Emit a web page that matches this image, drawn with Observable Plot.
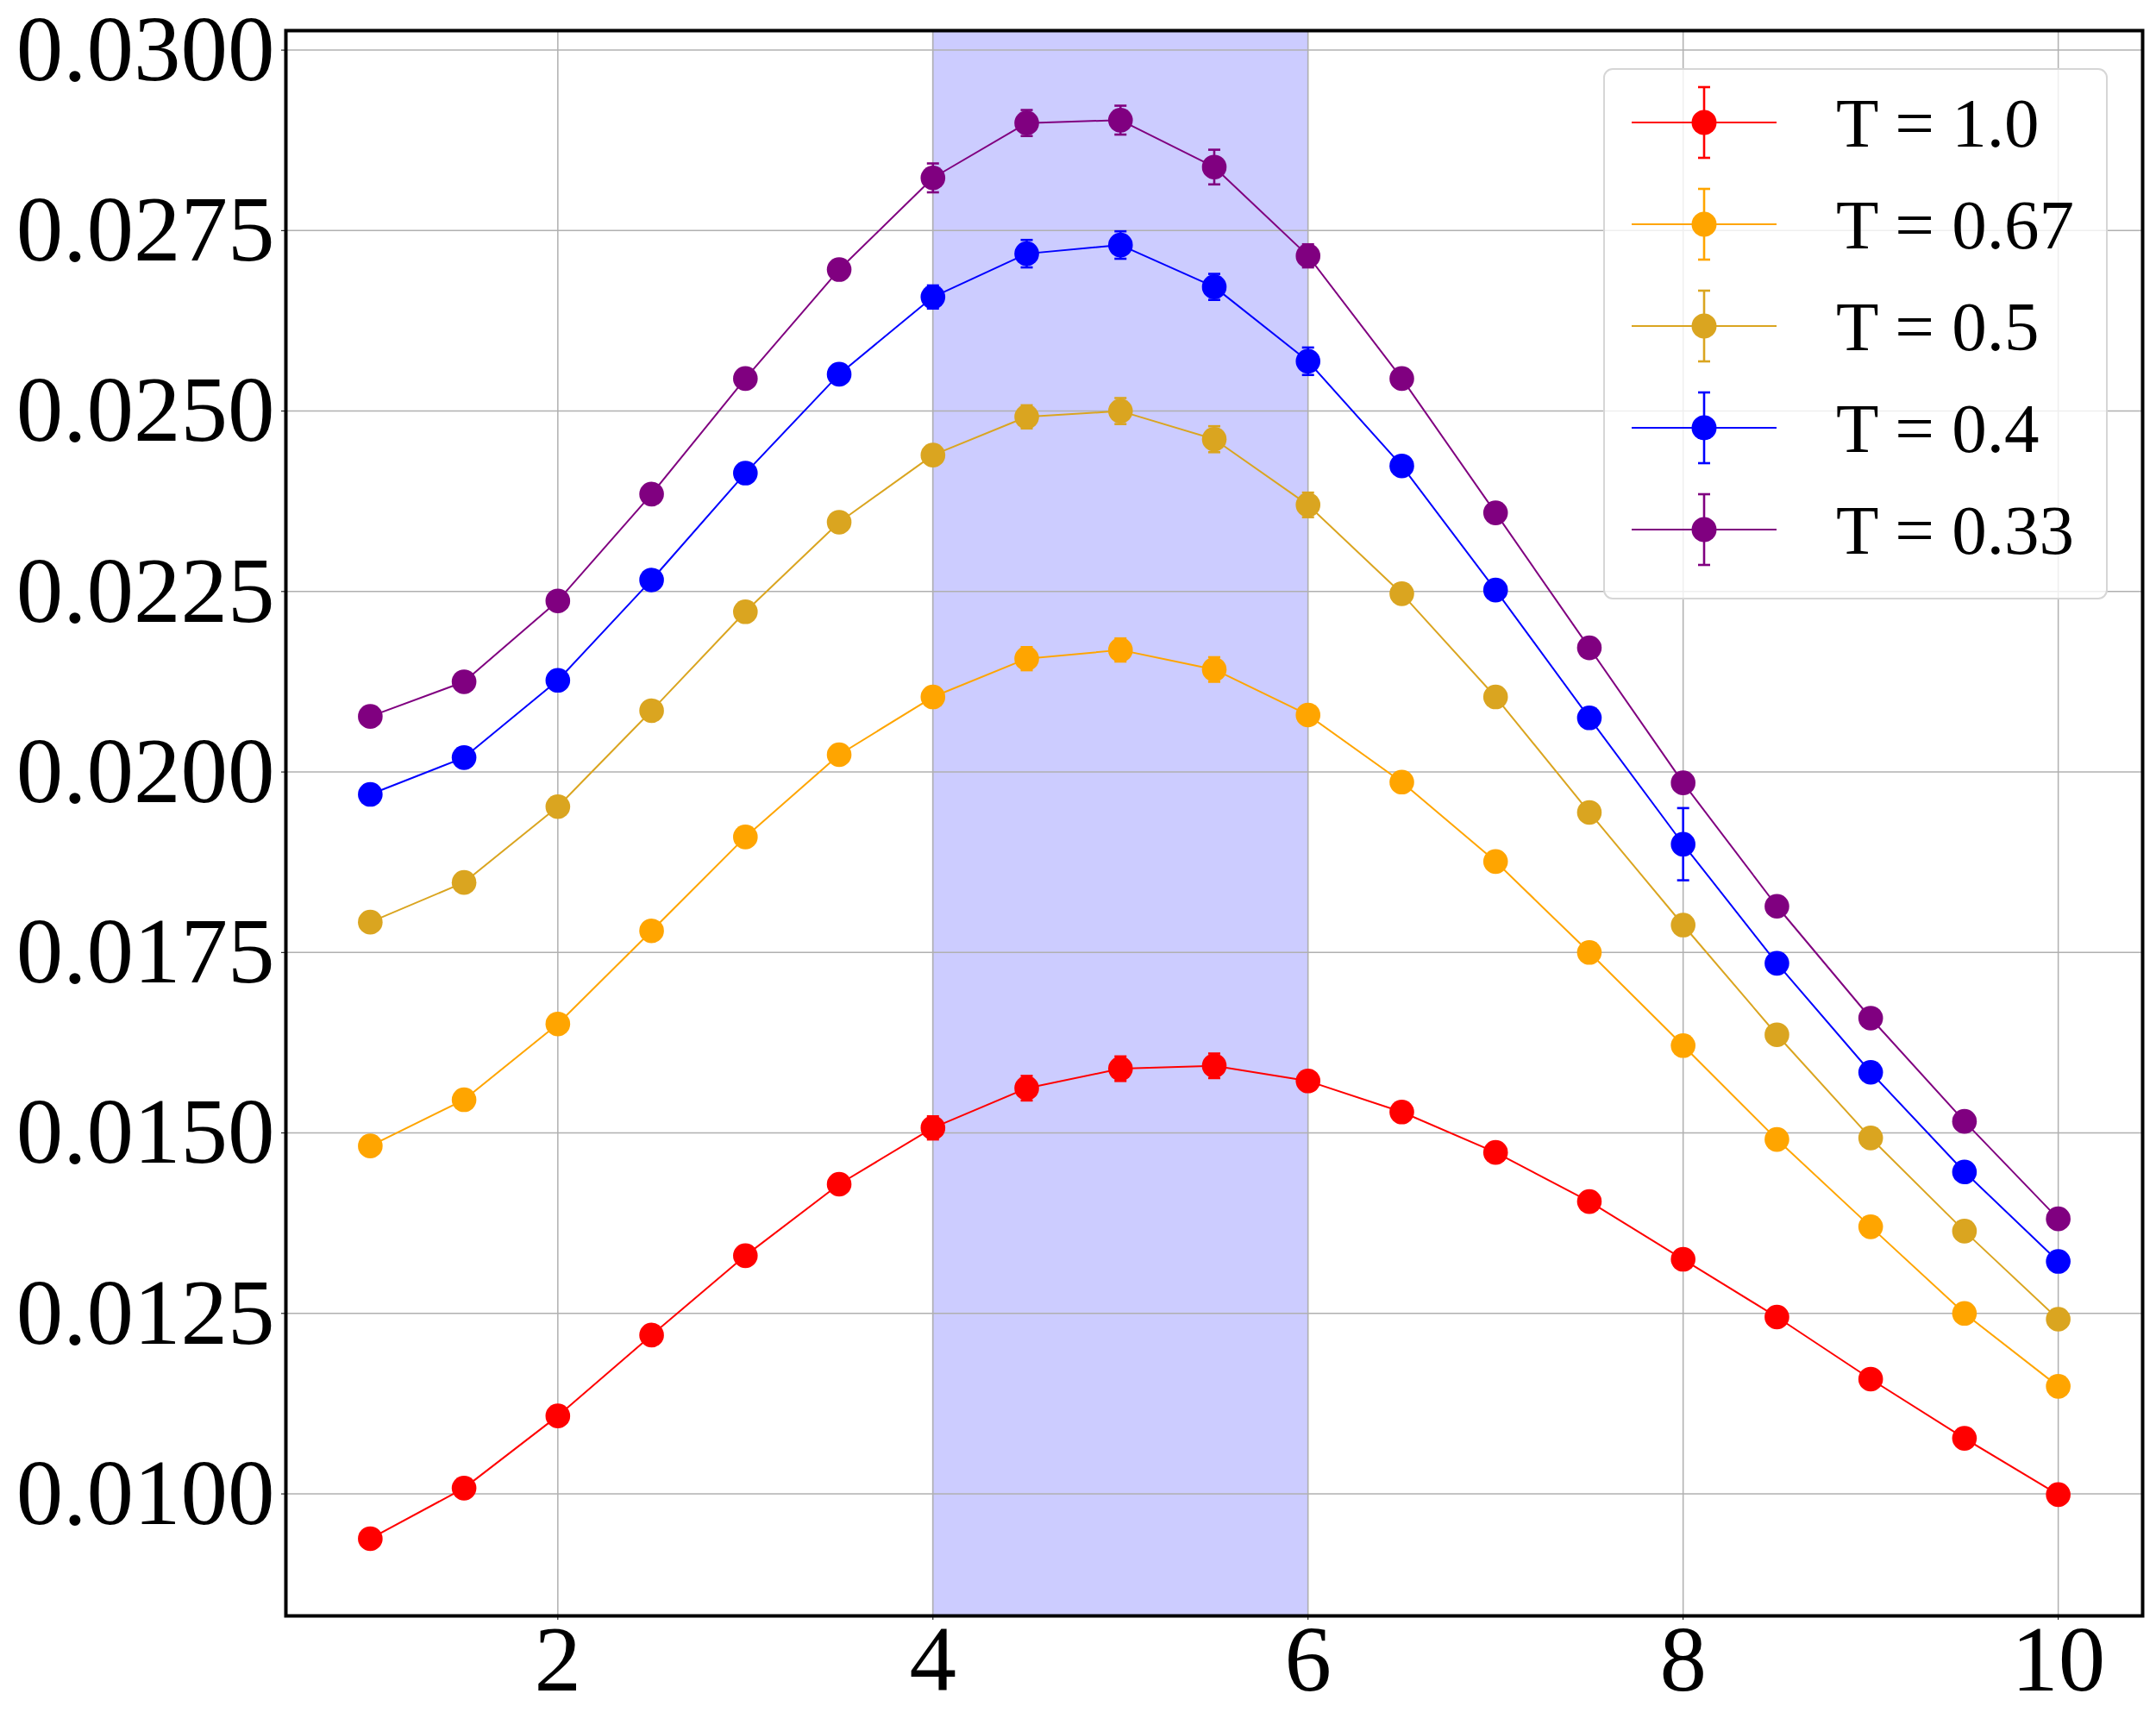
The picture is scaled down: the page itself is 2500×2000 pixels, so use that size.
<!DOCTYPE html>
<html>
<head>
<meta charset="utf-8">
<script src="https://cdn.jsdelivr.net/npm/d3@7"></script>
<script src="https://cdn.jsdelivr.net/npm/@observablehq/plot@0.6"></script>
<style>
  html, body { margin: 0; padding: 0; background: white; }
  #chart { position: relative; width: 2500px; height: 2000px; }
</style>
</head>
<body>
<div id="chart"></div>
<script>
const xs = [1, 1.5, 2, 2.5, 3, 3.5, 4, 4.5, 5, 5.5, 6, 6.5, 7, 7.5, 8, 8.5, 9, 9.5, 10];
const labels = ["T = 1.0", "T = 0.67", "T = 0.5", "T = 0.4", "T = 0.33"];
const colors = ["red", "orange", "goldenrod", "blue", "purple"];

const yT100 = [0.00938, 0.01008, 0.01108, 0.01220, 0.01330, 0.01429, 0.01507, 0.01562, 0.01589, 0.01593, 0.01572, 0.01529, 0.01473, 0.01405, 0.01325, 0.01245, 0.01159, 0.01077, 0.00999];
const yT067 = [0.01482, 0.01546, 0.01651, 0.01780, 0.01910, 0.02024, 0.02104, 0.02157, 0.02169, 0.02142, 0.02079, 0.01986, 0.01876, 0.01750, 0.01621, 0.01491, 0.01370, 0.01250, 0.01149];
const yT050 = [0.01792, 0.01847, 0.01952, 0.02085, 0.02222, 0.02346, 0.02439, 0.02492, 0.02500, 0.02461, 0.02370, 0.02247, 0.02104, 0.01944, 0.01788, 0.01636, 0.01493, 0.01364, 0.01242];
const yT040 = [0.01969, 0.02020, 0.02127, 0.02266, 0.02414, 0.02551, 0.02658, 0.02718, 0.02730, 0.02672, 0.02569, 0.02424, 0.02252, 0.02075, 0.01900, 0.01735, 0.01584, 0.01446, 0.01322];
const yT033 = [0.02077, 0.02125, 0.02237, 0.02385, 0.02545, 0.02696, 0.02823, 0.02899, 0.02903, 0.02838, 0.02715, 0.02545, 0.02359, 0.02172, 0.01985, 0.01814, 0.01659, 0.01516, 0.01381];

const eT100 = [0.0001, 0.0001, 0.0001, 0.0001, 0.0001, 0.0001, 0.00016, 0.00017, 0.00017, 0.00017, 0.0001, 0.0001, 0.0001, 0.0001, 0.0001, 0.0001, 0.0001, 0.0001, 0.0001];
const eT067 = [0.0001, 0.0001, 0.0001, 0.0001, 0.0001, 0.0001, 0.0001, 0.00016, 0.00016, 0.00017, 0.0001, 0.0001, 0.0001, 0.0001, 0.0001, 0.0001, 0.0001, 0.0001, 0.0001];
const eT050 = [0.0001, 0.0001, 0.0001, 0.0001, 0.0001, 0.0001, 0.0001, 0.00016, 0.00018, 0.00018, 0.00017, 0.0001, 0.0001, 0.0001, 0.0001, 0.0001, 0.0001, 0.0001, 0.0001];
const eT040 = [0.0001, 0.0001, 0.0001, 0.0001, 0.0001, 0.0001, 0.00016, 0.00019, 0.00019, 0.00018, 0.00019, 0.0001, 0.0001, 0.0001, 0.0005, 0.0001, 0.0001, 0.0001, 0.0001];
const eT033 = [0.0001, 0.0001, 0.0001, 0.0001, 0.0001, 0.0001, 0.0002, 0.00018, 0.0002, 0.00024, 0.00016, 0.0001, 0.0001, 0.0001, 0.0001, 0.0001, 0.0001, 0.0001, 0.0001];

const xTicks = [2, 4, 6, 8, 10];
const yTicks = [0.0100, 0.0125, 0.0150, 0.0175, 0.0200, 0.0225, 0.0250, 0.0275, 0.0300];
const span = [{x1: 4, x2: 6}];

const seriesY = [yT100, yT067, yT050, yT040, yT033];
const seriesE = [eT100, eT067, eT050, eT040, eT033];

const rows = [];
seriesY.forEach((ys, s) => {
  ys.forEach((y, i) => {
    rows.push({series: labels[s], color: colors[s], x: xs[i], y, lo: y - seriesE[s][i], hi: y + seriesE[s][i]});
  });
});

const capSymbol = {
  draw(ctx) { ctx.moveTo(-7, 0); ctx.lineTo(7, 0); }
};

const plot = Plot.plot({
  width: 2500,
  height: 2000,
  marginLeft: 331,
  marginRight: 16,
  marginTop: 35,
  marginBottom: 127,
  style: {fontFamily: "'Liberation Serif', 'Times New Roman', serif", fontSize: "109px", color: "black", background: "white"},
  x: {domain: [0.55, 10.45]},
  y: {domain: [0.00831, 0.03027]},
  marks: [
    Plot.rectY(span, {x1: "x1", x2: "x2", y1: 0.00831, y2: 0.03027, fill: "rgb(204,204,255)", stroke: "rgb(190,190,240)", strokeWidth: 1}),
    Plot.gridX(xTicks, {stroke: "#b0b0b0", strokeOpacity: 1, strokeWidth: 1.5}),
    Plot.gridY(yTicks, {stroke: "#b0b0b0", strokeOpacity: 1, strokeWidth: 1.5}),
    ...labels.map((lab, s) => Plot.line(rows.filter(d => d.series === lab), {x: "x", y: "y", stroke: colors[s], strokeWidth: 2})),
    ...labels.map((lab, s) => Plot.ruleX(rows.filter(d => d.series === lab), {x: "x", y1: "lo", y2: "hi", stroke: colors[s], strokeWidth: 2.6})),
    ...labels.map((lab, s) => Plot.dot(rows.filter(d => d.series === lab), {x: "x", y: "lo", symbol: capSymbol, stroke: colors[s], strokeWidth: 2.6, r: 7})),
    ...labels.map((lab, s) => Plot.dot(rows.filter(d => d.series === lab), {x: "x", y: "hi", symbol: capSymbol, stroke: colors[s], strokeWidth: 2.6, r: 7})),
    ...labels.map((lab, s) => Plot.dot(rows.filter(d => d.series === lab), {x: "x", y: "y", fill: colors[s], r: 14.3, stroke: "none"})),
    Plot.axisX({ticks: xTicks, tickSize: 5, tickPadding: 4, tickFormat: d => String(d), label: null, fontSize: 109}),
    Plot.axisY({ticks: yTicks, tickSize: 5, tickPadding: 8, tickFormat: d3.format(".4f"), label: null, fontSize: 109}),
    Plot.frame({stroke: "black", strokeWidth: 4})
  ]
});

document.getElementById("chart").appendChild(plot);

// Legend drawn in the SVG, top-right inside the axes
const svg = d3.select(plot);
const lg = svg.append("g").attr("class", "legend");
lg.append("rect")
  .attr("x", 1860).attr("y", 80).attr("width", 583).attr("height", 614)
  .attr("rx", 10).attr("ry", 10)
  .attr("fill", "white").attr("fill-opacity", 0.8)
  .attr("stroke", "#d6d6d6").attr("stroke-width", 2);
labels.forEach((lab, i) => {
  const cy = 142 + i * 118;
  const g = lg.append("g");
  g.append("line").attr("x1", 1892).attr("x2", 2060).attr("y1", cy).attr("y2", cy)
    .attr("stroke", colors[i]).attr("stroke-width", 2);
  g.append("line").attr("x1", 1976).attr("x2", 1976).attr("y1", cy - 41).attr("y2", cy + 41)
    .attr("stroke", colors[i]).attr("stroke-width", 2.6);
  g.append("line").attr("x1", 1969).attr("x2", 1983).attr("y1", cy - 41).attr("y2", cy - 41)
    .attr("stroke", colors[i]).attr("stroke-width", 2.6);
  g.append("line").attr("x1", 1969).attr("x2", 1983).attr("y1", cy + 41).attr("y2", cy + 41)
    .attr("stroke", colors[i]).attr("stroke-width", 2.6);
  g.append("circle").attr("cx", 1976).attr("cy", cy).attr("r", 14.5).attr("fill", colors[i]);
  g.append("text").attr("x", 2129).attr("y", cy).attr("dy", "0.34em")
    .attr("text-anchor", "start")
    .attr("font-family", "'Liberation Serif', 'Times New Roman', serif")
    .attr("font-size", 81).attr("fill", "black").text(lab);
});
</script>
</body>
</html>
